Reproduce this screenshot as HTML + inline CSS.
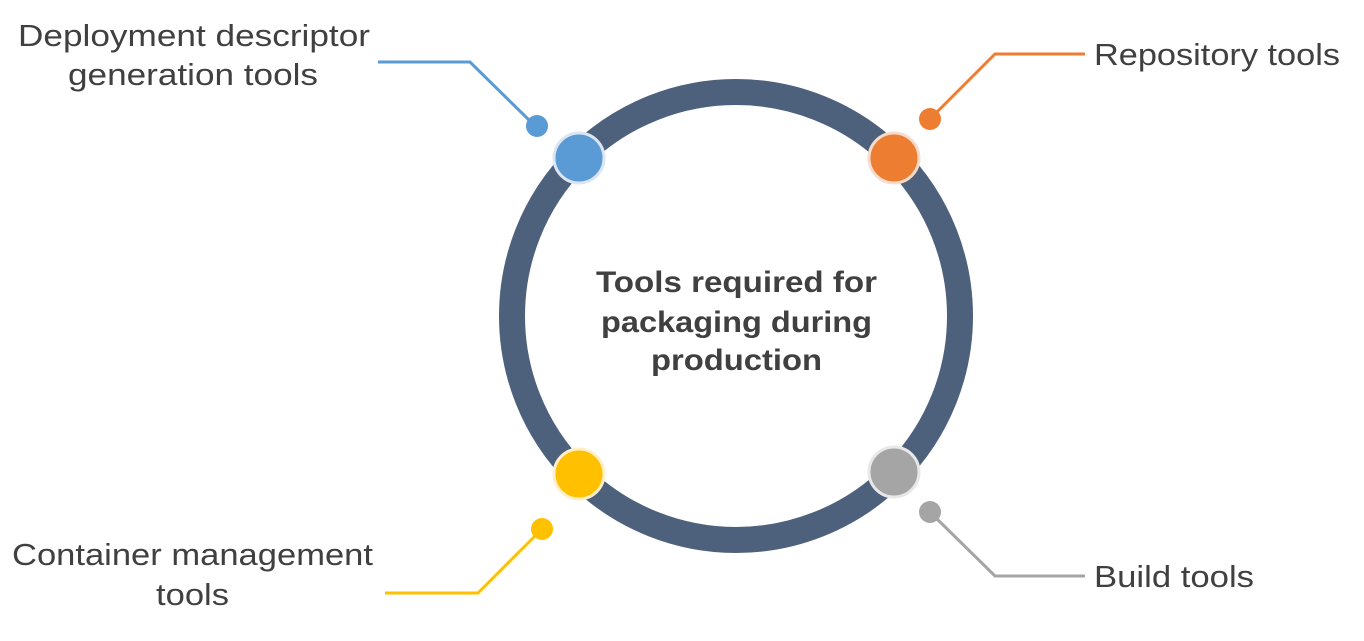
<!DOCTYPE html>
<html><head><meta charset="utf-8"><style>
html,body{margin:0;padding:0;background:#fff;}
body{width:1364px;height:636px;overflow:hidden;}
svg text{font-family:"Liberation Sans",sans-serif;fill:#404040;}
</style></head><body>
<svg width="1364" height="636" viewBox="0 0 1364 636">
<circle cx="736" cy="316" r="224" fill="none" stroke="#4e617c" stroke-width="26"/>
<polyline points="378,62 470,62 530,121" fill="none" stroke="#5b9bd5" stroke-width="3"/>
<polyline points="935,114 995,54 1085,54" fill="none" stroke="#ed7d31" stroke-width="3"/>
<polyline points="385,593 478,593 538,533" fill="none" stroke="#ffc000" stroke-width="3"/>
<polyline points="935,517 995,576 1085,576" fill="none" stroke="#a5a5a5" stroke-width="3"/>
<circle cx="537" cy="126" r="11" fill="#5b9bd5"/>
<circle cx="930" cy="119" r="11" fill="#ed7d31"/>
<circle cx="542" cy="529" r="11" fill="#ffc000"/>
<circle cx="930" cy="512" r="11" fill="#a5a5a5"/>
<circle cx="579" cy="158" r="25" fill="#5b9bd5" stroke="#dce6f2" stroke-width="3"/>
<circle cx="894" cy="158" r="25" fill="#ed7d31" stroke="#f5dccd" stroke-width="3"/>
<circle cx="579" cy="474" r="25" fill="#ffc000" stroke="#fff0c8" stroke-width="3"/>
<circle cx="894" cy="472" r="25" fill="#a5a5a5" stroke="#e8e8e8" stroke-width="3"/>
<text x="18" y="46" font-size="31" textLength="352" lengthAdjust="spacingAndGlyphs">Deployment descriptor</text>
<text x="68" y="85" font-size="31" textLength="250" lengthAdjust="spacingAndGlyphs">generation tools</text>
<text x="1094" y="65" font-size="31" textLength="246" lengthAdjust="spacingAndGlyphs">Repository tools</text>
<text x="12" y="565" font-size="31" textLength="361" lengthAdjust="spacingAndGlyphs">Container management</text>
<text x="156" y="605" font-size="31" textLength="73" lengthAdjust="spacingAndGlyphs">tools</text>
<text x="1094" y="587" font-size="31" textLength="160" lengthAdjust="spacingAndGlyphs">Build tools</text>
<text x="596" y="292" font-size="30" font-weight="bold" textLength="281" lengthAdjust="spacingAndGlyphs">Tools required for</text>
<text x="601" y="332" font-size="30" font-weight="bold" textLength="271" lengthAdjust="spacingAndGlyphs">packaging during</text>
<text x="651" y="370" font-size="30" font-weight="bold" textLength="171" lengthAdjust="spacingAndGlyphs">production</text>
</svg>
</body></html>
